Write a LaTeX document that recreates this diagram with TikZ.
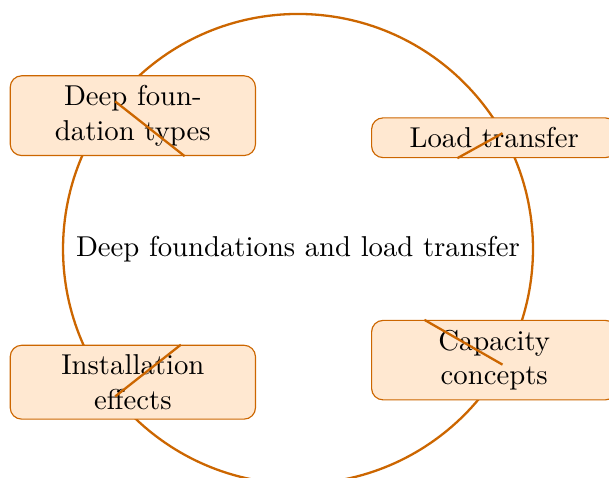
\documentclass[tikz,border=0pt]{standalone}
\usepackage{tikz}

\tikzset{
    topic/.style={rectangle,rounded corners,draw=orange!80!black,fill=orange!18,thin,
        minimum width=3cm,text width=2.2cm,align=center},
    link/.style={orange!80!black,thick}
}

\begin{document}
\begin{tikzpicture}[auto]
    \useasboundingbox (-3.645,-2.801) rectangle (3.804,3.045);
    % Ring
    \draw[orange!80!black,thick] (0,0) circle (2.874);

    % Nodes
    \node (hub) at (0,0) {Deep foundations and load transfer};
    \node (types) at (-2.02,1.63) [topic] {Deep foundation types};
    \node (load) at (2.40,1.36) [topic] {Load transfer};
    \node (cap) at (2.40,-1.36) [topic] {Capacity concepts};
    \node (inst) at (-2.02,-1.63) [topic] {Installation effects};

    % Points on the ring
    \coordinate (p1) at (141.1:2.874);
    \coordinate (p2) at (29.5:2.874);
    \coordinate (p3) at (-29.5:2.874);
    \coordinate (p4) at (-141.1:2.874);

    % Links
    \draw[link] (p1) -- (types.-38.9);
    \draw[link] (p2) -- (load.209.5);
    \draw[link] (p3) -- (cap.150.5);
    \draw[link] (p4) -- (inst.38.9);
\end{tikzpicture}
\end{document}
